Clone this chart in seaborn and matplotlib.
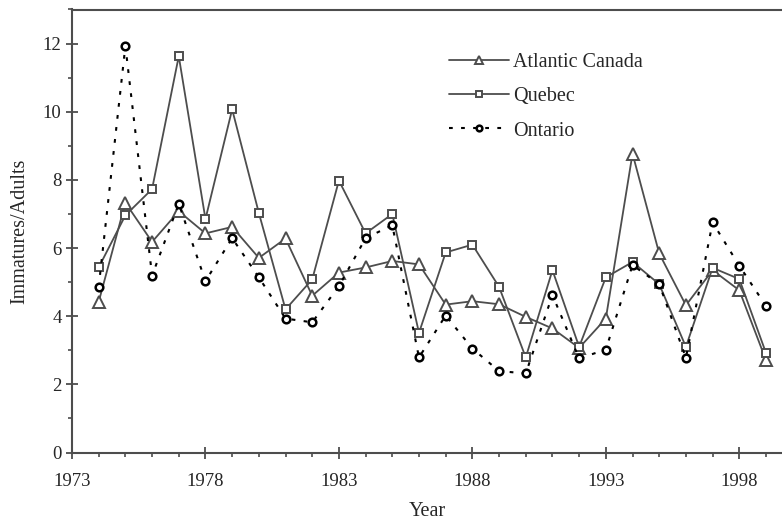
import numpy as np
import pandas as pd
import matplotlib
matplotlib.use("Agg")
import matplotlib.pyplot as plt
from matplotlib.ticker import MultipleLocator
import seaborn as sns

# ── data ──────────────────────────────────────────────────────
years = list(range(1974, 2000))
atlantic = [4.42, 7.33, 6.18, 7.08, 6.43, 6.62, 5.71, 6.28, 4.60, 5.28,
            5.43, 5.62, 5.52, 4.34, 4.44, 4.35, 3.98, 3.64, 3.07, 3.93,
            8.77, 5.84, 4.32, 5.35, 4.76, 2.71]
quebec = [5.43, 6.96, 7.73, 11.63, 6.85, 10.07, 7.03, 4.20, 5.08, 7.98,
          6.43, 7.00, 3.51, 5.87, 6.10, 4.86, 2.79, 5.35, 3.10, 5.14,
          5.59, 4.94, 3.10, 5.42, 5.09, 2.92]
ontario = [4.86, 11.93, 5.19, 7.30, 5.03, 6.29, 5.14, 3.93, 3.82, 4.88,
           6.29, 6.67, 2.79, 4.02, 3.05, 2.39, 2.32, 4.62, 2.76, 3.02,
           5.50, 4.94, 2.78, 6.75, 5.48, 4.30]
x_ticks = [1973, 1978, 1983, 1988, 1993, 1998]

df = pd.DataFrame({'Year': years, 'Atlantic Canada': atlantic,
                   'Quebec': quebec, 'Ontario': ontario})

sns.set_style("ticks")
plt.rcParams['font.family'] = ['Liberation Serif', 'DejaVu Serif']

GREY = '#4d4d4d'

fig = plt.figure(figsize=(7.82, 5.25), dpi=100)
ax = fig.add_axes([72 / 782, 1 - 452.5 / 525, 1 - 72 / 782, (452.5 - 9.5) / 525])

sns.lineplot(data=df, x='Year', y='Atlantic Canada', ax=ax, estimator=None,
             color=GREY, lw=1.3, marker='^', markersize=8.5,
             markerfacecolor='white', markeredgecolor=GREY, markeredgewidth=1.4,
             label='Atlantic Canada', zorder=3)
sns.lineplot(data=df, x='Year', y='Quebec', ax=ax, estimator=None,
             color=GREY, lw=1.3, marker='s', markersize=5.5,
             markerfacecolor='white', markeredgecolor=GREY, markeredgewidth=1.4,
             label='Quebec', zorder=3)
sns.lineplot(data=df, x='Year', y='Ontario', ax=ax, estimator=None,
             color='black', lw=1.5, linestyle=(0, (1.8, 4.0)), marker='o',
             markersize=5.5, markerfacecolor='white', markeredgecolor='black',
             markeredgewidth=1.8, label='Ontario', zorder=4)

ax.set_xlim(1973, 1999.6)
ax.set_ylim(0, 13)
ax.set_xticks(x_ticks)
ax.set_xticklabels([str(y) for y in x_ticks])
ax.xaxis.set_minor_locator(MultipleLocator(1))
ax.yaxis.set_major_locator(MultipleLocator(2))
ax.yaxis.set_minor_locator(MultipleLocator(1))

ax.tick_params(which='major', direction='inout', length=9, width=1.3,
               color=GREY, labelsize=13.5)
ax.tick_params(which='minor', direction='out', length=3, width=1.2, color=GREY)
ax.tick_params(axis='x', which='major', pad=10)
ax.tick_params(axis='y', which='major', pad=3)

for side in ['left', 'bottom', 'top']:
    ax.spines[side].set_color(GREY)
    ax.spines[side].set_linewidth(1.5)
ax.spines['right'].set_visible(False)

ax.set_xlabel('Year', fontsize=14.5, labelpad=9)
ax.set_ylabel('Immatures/Adults', fontsize=14.5, labelpad=10)

ax.legend(loc='upper left', bbox_to_anchor=(449 / 782, 1 - 53 / 525),
          bbox_transform=fig.transFigure, frameon=False, fontsize=14.5,
          handlelength=3.0, handletextpad=0.2, labelspacing=0.75,
          borderpad=0, borderaxespad=0, markerscale=0.75)

plt.savefig('out.png', dpi=100)
plt.close()
